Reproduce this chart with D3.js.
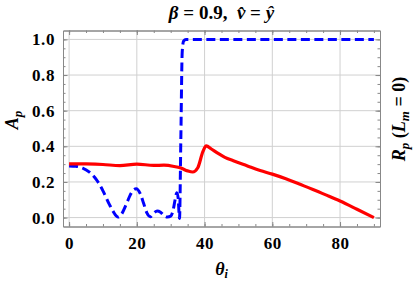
<!DOCTYPE html>
<html>
<head>
<meta charset="utf-8">
<script src="https://cdn.jsdelivr.net/npm/d3@7"></script>
<style>
  body { margin:0; background:#fff; }
  text { font-family: "Liberation Serif", "Times New Roman", serif; font-weight:bold; }
  .grid line { stroke:#d0d0d0; stroke-width:1; }
</style>
</head>
<body>
<div id="chart-area"></div>
<script>
// chart values
var redTheta = [0, 5, 10, 15, 20, 25, 28, 31, 33, 35, 36.5, 38, 39.5, 40.5, 42, 44, 46, 48.5, 52.5, 56.4, 60, 64, 68, 72, 76, 80, 85, 90];
var redAp    = [0.302, 0.301, 0.298, 0.292, 0.300, 0.293, 0.294, 0.287, 0.278, 0.262, 0.256, 0.28, 0.37, 0.403, 0.385, 0.36, 0.338, 0.319, 0.291, 0.264, 0.244, 0.218, 0.188, 0.158, 0.126, 0.093, 0.047, 0.0];

var blueTheta = [0, 2, 4, 6, 8, 10, 12, 13, 14, 14.5, 15.5, 17, 18, 19, 19.8, 21, 22, 23, 24, 25, 26, 27, 28, 29, 30, 30.7, 31.3, 31.8, 32.2, 32.6, 33.0, 33.4, 33.8, 34.5, 40, 90];
var blueRp    = [0.29, 0.288, 0.278, 0.255, 0.215, 0.15, 0.07, 0.035, 0.008, 0.003, 0.02, 0.08, 0.125, 0.155, 0.162, 0.135, 0.08, 0.025, 0.005, 0.025, 0.037, 0.03, 0.012, 0.003, 0.008, 0.04, 0.1, 0.14, 0.11, -0.005, 0.45, 0.93, 0.99, 1.0, 1.0, 1.0];

var xMajor = [0, 20, 40, 60, 80];
var yMajor = [0.0, 0.2, 0.4, 0.6, 0.8, 1.0];

var W = 415, H = 285;
var frame = { left:63, right:380, top:30.5, bottom:226.5 };

var svg = d3.select("#chart-area").append("svg")
    .attr("width", W).attr("height", H);

var x = d3.scaleLinear().domain([-1.8, 91.8]).range([frame.left, frame.right]);
var y = d3.scaleLinear().domain([-0.05, 1.05]).range([frame.bottom, frame.top]);

// grid lines
var grid = svg.append("g").attr("class", "grid");
grid.selectAll(".gx").data(xMajor).enter().append("line")
    .attr("x1", function(d){ return x(d); }).attr("x2", function(d){ return x(d); })
    .attr("y1", frame.top).attr("y2", frame.bottom);
grid.selectAll(".gy").data(yMajor).enter().append("line")
    .attr("x1", frame.left).attr("x2", frame.right)
    .attr("y1", function(d){ return y(d); }).attr("y2", function(d){ return y(d); });

// frame with inward ticks on all four sides
var xMinor = d3.range(0, 91, 5), yMinor = d3.range(0, 1.001, 0.05);
function frameAxis(axis, tr, labels) {
    var g = svg.append("g").attr("transform", tr).call(axis);
    g.select(".domain").attr("stroke", "#888");
    g.selectAll(".tick line").attr("stroke", "#888");
    if (!labels) g.selectAll(".tick text").remove();
    return g;
}
var fmt = d3.format(".1f");
// minor ticks
frameAxis(d3.axisBottom(x).tickValues(xMinor).tickSizeInner(-2.5).tickSizeOuter(0).tickFormat(""), "translate(0," + frame.bottom + ")", false);
frameAxis(d3.axisTop(x).tickValues(xMinor).tickSizeInner(-2.5).tickSizeOuter(0).tickFormat(""), "translate(0," + frame.top + ")", false);
frameAxis(d3.axisLeft(y).tickValues(yMinor).tickSizeInner(-2.5).tickSizeOuter(0).tickFormat(""), "translate(" + frame.left + ",0)", false);
frameAxis(d3.axisRight(y).tickValues(yMinor).tickSizeInner(-2.5).tickSizeOuter(0).tickFormat(""), "translate(" + frame.right + ",0)", false);
// major ticks with labels
frameAxis(d3.axisBottom(x).tickValues(xMajor).tickSizeInner(-4.5).tickSizeOuter(0).tickPadding(10), "translate(0," + frame.bottom + ")", true);
frameAxis(d3.axisTop(x).tickValues(xMajor).tickSizeInner(-4.5).tickSizeOuter(0), "translate(0," + frame.top + ")", false);
frameAxis(d3.axisLeft(y).tickValues(yMajor).tickSizeInner(-4.5).tickSizeOuter(0).tickPadding(8).tickFormat(fmt), "translate(" + frame.left + ",0)", true);
frameAxis(d3.axisRight(y).tickValues(yMajor).tickSizeInner(-4.5).tickSizeOuter(0), "translate(" + frame.right + ",0)", false);
svg.selectAll(".tick text").attr("font-family", "Liberation Serif").attr("font-size", "17px")
    .attr("font-weight", "bold").attr("fill", "#000").attr("letter-spacing", "0.6px");

// curves
var redLine = d3.line()
    .x(function(d, i){ return x(redTheta[i]); })
    .y(function(d){ return y(d); })
    .curve(d3.curveMonotoneX);
var blueLine = d3.line()
    .x(function(d, i){ return x(blueTheta[i]); })
    .y(function(d){ return y(d); })
    .curve(d3.curveMonotoneX);

svg.append("path").datum(blueRp)
    .attr("d", blueLine)
    .attr("fill", "none").attr("stroke", "#0000ff")
    .attr("stroke-width", 3).attr("stroke-dasharray", "9,4.5");
svg.append("path").datum(redAp)
    .attr("d", redLine)
    .attr("fill", "none").attr("stroke", "#ff0000")
    .attr("stroke-width", 3.2);

// title
var title = svg.append("text").attr("x", (frame.left + frame.right) / 2).attr("y", 19)
    .attr("text-anchor", "middle").attr("font-size", "19px");
title.append("tspan").attr("font-style", "italic").text("\u03b2");
title.append("tspan").text("\u00a0=\u00a00.9,\u00a0\u00a0");
title.append("tspan").attr("font-style", "italic").text("v\u0302");
title.append("tspan").text("\u00a0=\u00a0");
title.append("tspan").attr("font-style", "italic").text("\u0177");

// x label
var xLab = svg.append("text").attr("x", (frame.left + frame.right) / 2).attr("y", 275)
    .attr("text-anchor", "middle").attr("font-size", "18px").attr("font-style", "italic");
xLab.append("tspan").text("\u03b8");
xLab.append("tspan").attr("font-size", "12px").attr("dy", 3).text("i");

// left label
var yLab = svg.append("text").attr("transform", "translate(18,120) rotate(-90)")
    .attr("text-anchor", "middle").attr("font-size", "18px").attr("font-style", "italic");
yLab.append("tspan").text("A");
yLab.append("tspan").attr("font-size", "13px").attr("dy", 4).text("p");

// right label
var rLab = svg.append("text").attr("transform", "translate(405,119) rotate(-90)")
    .attr("text-anchor", "middle").attr("font-size", "18px");
rLab.append("tspan").attr("font-style", "italic").text("R");
rLab.append("tspan").attr("font-style", "italic").attr("font-size", "13px").attr("dy", 4).text("p");
rLab.append("tspan").attr("dy", -4).text("\u00a0(");
rLab.append("tspan").attr("font-style", "italic").text("L");
rLab.append("tspan").attr("font-style", "italic").attr("font-size", "13px").attr("dy", 4).text("m");
rLab.append("tspan").attr("dy", -4).text("\u00a0=\u00a00)");
</script>
</body>
</html>
